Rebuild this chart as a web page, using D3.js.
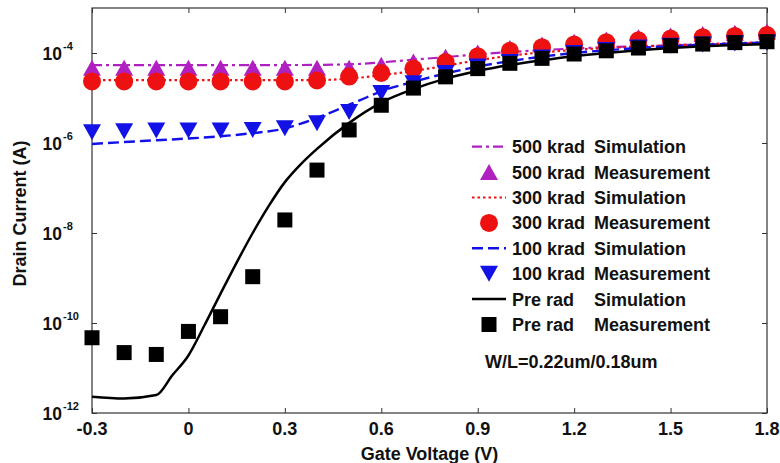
<!DOCTYPE html>
<html><head><meta charset="utf-8">
<script src="https://cdn.jsdelivr.net/npm/d3@7"></script>
<style>
body{margin:0;background:#fff}
text{font-family:Arial,"Liberation Sans",sans-serif;font-weight:bold;fill:#111}
</style>
</head><body>
<svg id="chart" width="780" height="463"></svg>
<script>
// ---------- data ----------
const xTicks = [-0.3, 0, 0.3, 0.6, 0.9, 1.2, 1.5, 1.8];
const xTickLabels = ["-0.3", "0", "0.3", "0.6", "0.9", "1.2", "1.5", "1.8"];
const yTicks = [1e-12, 1e-10, 1e-8, 1e-6, 1e-4];
const yTickExponents = ["-12", "-10", "-8", "-6", "-4"];

// measurement gate voltages
const measVg = [-0.3,-0.2,-0.1,0,0.1,0.2,0.3,0.4,0.5,0.6,0.7,0.8,0.9,1.0,1.1,1.2,1.3,1.4,1.5,1.6,1.7,1.8];
const meas500 = [4.7e-5,4.7e-5,4.7e-5,4.7e-5,4.7e-5,4.7e-5,4.7e-5,4.7e-5,4.7e-5,5.5e-5,6.5e-5,8.3e-5,1.02e-4,1.29e-4,1.55e-4,1.78e-4,2.0e-4,2.24e-4,2.45e-4,2.63e-4,2.82e-4,3.02e-4];
const meas300 = [2.34e-5,2.34e-5,2.34e-5,2.34e-5,2.34e-5,2.34e-5,2.34e-5,2.45e-5,3.0e-5,3.6e-5,4.5e-5,6.3e-5,8.5e-5,1.12e-4,1.35e-4,1.55e-4,1.74e-4,1.91e-4,2.09e-4,2.24e-4,2.4e-4,2.51e-4];
const meas100 = [1.74e-6,1.82e-6,1.9e-6,1.9e-6,1.9e-6,1.95e-6,2.14e-6,2.75e-6,4.9e-6,1.29e-5,2.14e-5,3.6e-5,5.0e-5,6.3e-5,7.9e-5,1.0e-4,1.17e-4,1.32e-4,1.45e-4,1.55e-4,1.62e-4,1.7e-4];
const measPre = [4.7e-11,2.2e-11,2.0e-11,6.5e-11,1.38e-10,1.07e-9,1.95e-8,2.5e-7,1.95e-6,6.9e-6,1.66e-5,2.95e-5,4.5e-5,5.9e-5,7.6e-5,9.5e-5,1.12e-4,1.29e-4,1.45e-4,1.58e-4,1.7e-4,1.78e-4];

// simulation curves
const sim500Vg = [-0.3,0.3,0.5,0.6,0.7,0.8,0.9,1.0,1.2,1.5,1.8];
const sim500 = [5.4e-5,5.4e-5,5.6e-5,6.2e-5,7.1e-5,8.1e-5,9.3e-5,1.05e-4,1.26e-4,1.48e-4,1.7e-4];
const sim300Vg = [-0.3,0.4,0.5,0.6,0.7,0.8,0.9,1.0,1.2,1.5,1.8];
const sim300 = [2.5e-5,2.5e-5,2.7e-5,3.2e-5,4.0e-5,5.2e-5,6.9e-5,8.7e-5,1.17e-4,1.48e-4,1.74e-4];
const sim100Vg = [-0.3,-0.2,-0.1,0,0.1,0.2,0.3,0.35,0.4,0.45,0.5,0.55,0.6,0.7,0.8,0.9,1.0,1.1,1.2,1.3,1.4,1.5,1.6,1.7,1.8];
const sim100 = [9.5e-7,1.05e-6,1.15e-6,1.26e-6,1.41e-6,1.66e-6,2.1e-6,2.7e-6,3.6e-6,5.0e-6,7.1e-6,1.0e-5,1.41e-5,2.3e-5,3.5e-5,5.0e-5,6.6e-5,8.3e-5,1.0e-4,1.15e-4,1.29e-4,1.41e-4,1.51e-4,1.62e-4,1.7e-4];
const simPreVg = [-0.3,-0.2,-0.1,-0.05,0,0.05,0.1,0.15,0.2,0.25,0.3,0.35,0.4,0.5,0.6,0.7,0.8,0.9,1.0,1.1,1.2,1.3,1.4,1.5,1.6,1.7,1.8];
const simPre = [2.3e-12,2.1e-12,2.5e-12,6.9e-12,1.9e-11,8.9e-11,4.5e-10,2.2e-9,1.0e-8,4.0e-8,1.35e-7,3.4e-7,7.4e-7,2.8e-6,7.9e-6,1.58e-5,2.7e-5,4.0e-5,5.4e-5,6.9e-5,8.5e-5,1.0e-4,1.15e-4,1.29e-4,1.41e-4,1.51e-4,1.58e-4];

const legendLabels = [
  ["500 krad", "Simulation"], ["500 krad", "Measurement"],
  ["300 krad", "Simulation"], ["300 krad", "Measurement"],
  ["100 krad", "Simulation"], ["100 krad", "Measurement"],
  ["Pre rad", "Simulation"], ["Pre rad", "Measurement"]
];
const annotation = "W/L=0.22um/0.18um";
const xAxisTitle = "Gate Voltage (V)";
const yAxisTitle = "Drain Current (A)";

// ---------- styles ----------
const C500 = "#b020c0", C300 = "#ee1111", C100 = "#1212e6", CPRE = "#000";

// ---------- chart ----------
const svg = d3.select("#chart");
const L = 92, R = 767, T = 8, B = 413;
const x = d3.scaleLinear().domain([-0.3, 1.8]).range([L, R]);
const y = d3.scaleLog().domain([1e-12, 1e-3]).range([B, T]);

// frame
svg.append("rect").attr("x", L).attr("y", T).attr("width", R - L).attr("height", B - T)
  .attr("fill", "none").attr("stroke", "#333").attr("stroke-width", 1.2);

// ticks (inward, mirrored)
function ticksAxis(axis, tr) {
  const g = svg.append("g").attr("transform", tr).call(axis);
  g.select(".domain").remove();
  g.selectAll(".tick line").attr("stroke", "#333").attr("stroke-width", 1);
  return g;
}
ticksAxis(d3.axisBottom(x).tickValues(xTicks).tickSize(-5).tickFormat(""), `translate(0,${B})`);
ticksAxis(d3.axisTop(x).tickValues(xTicks).tickSize(-5).tickFormat(""), `translate(0,${T})`);
ticksAxis(d3.axisLeft(y).tickValues(yTicks).tickSize(-5).tickFormat(""), `translate(${L},0)`);
ticksAxis(d3.axisRight(y).tickValues(yTicks).tickSize(-5).tickFormat(""), `translate(${R},0)`);

// x tick labels
svg.append("g").selectAll("text").data(xTicks).join("text")
  .attr("x", d => x(d)).attr("y", B + 22).attr("text-anchor", "middle")
  .attr("font-size", 18).text((d, i) => xTickLabels[i]);

// y tick labels (10^n)
const yl = svg.append("g").selectAll("g").data(yTicks).join("g");
yl.append("text").attr("x", 62).attr("y", d => y(d) + 6.5).attr("text-anchor", "end")
  .attr("font-size", 17.5).text("10");
yl.append("text").attr("x", 63).attr("y", d => y(d) - 3).attr("text-anchor", "start")
  .attr("font-size", 11).text((d, i) => yTickExponents[i]);

// axis titles
svg.append("text").attr("x", (L + R) / 2).attr("y", 460).attr("text-anchor", "middle")
  .attr("font-size", 18).text(xAxisTitle);
svg.append("text").attr("transform", `translate(26,${(T + B) / 2 + 3}) rotate(-90)`)
  .attr("text-anchor", "middle").attr("font-size", 18).text(yAxisTitle);

// marker shapes (bbox centred)
const tri = (w, h) => `M0,${-h/2}L${w/2},${h/2}L${-w/2},${h/2}Z`;
const triDown = (w, h) => `M0,${h/2}L${w/2},${-h/2}L${-w/2},${-h/2}Z`;
const shapes = {
  up: g => g.append("path").attr("d", tri(18, 16)),
  down: g => g.append("path").attr("d", triDown(18, 16)),
  circle: g => g.append("circle").attr("r", 9),
  square: g => g.append("rect").attr("x", -7.5).attr("y", -7.5).attr("width", 15).attr("height", 15)
};

const line = d3.line().curve(d3.curveMonotoneX).x(d => x(d[0])).y(d => y(d[1]));
function drawSim(vg, vals, color, dash, width) {
  svg.append("path").datum(vg.map((v, i) => [v, vals[i]]))
    .attr("d", line).attr("fill", "none").attr("stroke", color)
    .attr("stroke-width", width).attr("stroke-dasharray", dash);
}
function drawMeas(vals, color, shape) {
  const g = svg.append("g").selectAll("g").data(measVg.map((v, i) => [v, vals[i]])).join("g")
    .attr("transform", d => `translate(${x(d[0])},${y(d[1])})`);
  g.each(function () { shapes[shape](d3.select(this)).attr("fill", color); });
}

const series = [
  {kind: "sim", vg: sim500Vg, vals: sim500, color: C500, dash: "10,4,3,4", w: 2.2},
  {kind: "meas", vals: meas500, color: C500, shape: "up"},
  {kind: "sim", vg: sim300Vg, vals: sim300, color: C300, dash: "2.5,3", w: 2.2},
  {kind: "meas", vals: meas300, color: C300, shape: "circle"},
  {kind: "sim", vg: sim100Vg, vals: sim100, color: C100, dash: "11,5", w: 2.4},
  {kind: "meas", vals: meas100, color: C100, shape: "down"},
  {kind: "sim", vg: simPreVg, vals: simPre, color: CPRE, dash: null, w: 2.5},
  {kind: "meas", vals: measPre, color: CPRE, shape: "square"}
];
series.forEach(s => s.kind === "sim" ? drawSim(s.vg, s.vals, s.color, s.dash, s.w) : drawMeas(s.vals, s.color, s.shape));

// legend
const lg = svg.append("g");
series.forEach((s, i) => {
  const cy = 146.7 + i * 25.4;
  if (s.kind === "sim") {
    lg.append("line").attr("x1", 472).attr("x2", 506).attr("y1", cy).attr("y2", cy)
      .attr("stroke", s.color).attr("stroke-width", s.w).attr("stroke-dasharray", s.dash);
  } else {
    shapes[s.shape](lg.append("g").attr("transform", `translate(489,${cy})`)).attr("fill", s.color);
  }
  const t = lg.append("text").attr("y", cy + 6.5).attr("font-size", 18);
  t.append("tspan").attr("x", 512).text(legendLabels[i][0] + " ");
  t.append("tspan").attr("x", 594).text(legendLabels[i][1]);
});
svg.append("text").attr("x", 485).attr("y", 368).attr("font-size", 18).text(annotation);
</script>
</body></html>
